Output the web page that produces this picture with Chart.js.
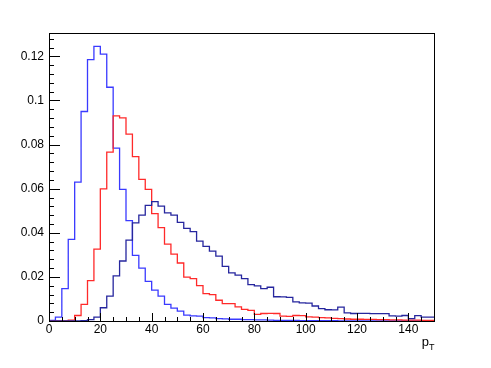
<!DOCTYPE html>
<html>
<head>
<meta charset="utf-8">
<script src="https://cdn.jsdelivr.net/npm/chart.js@4/dist/chart.umd.min.js"></script>
<style>
  html, body { margin: 0; padding: 0; background: #ffffff; }
  #wrap { width: 491px; height: 368px; position: relative; }
</style>
</head>
<body>
<div id="wrap"><canvas id="c" width="491" height="368"></canvas></div>
<script>
// Bin lower edges (60 bins of width 2.5 from 0 to 150), last entry is the upper edge
const binEdges = [0, 2.5, 5, 7.5, 10, 12.5, 15, 17.5, 20, 22.5, 25, 27.5, 30, 32.5, 35, 37.5,
  40, 42.5, 45, 47.5, 50, 52.5, 55, 57.5, 60, 62.5, 65, 67.5, 70, 72.5, 75, 77.5,
  80, 82.5, 85, 87.5, 90, 92.5, 95, 97.5, 100, 102.5, 105, 107.5, 110, 112.5, 115, 117.5,
  120, 122.5, 125, 127.5, 130, 132.5, 135, 137.5, 140, 142.5, 145, 147.5, 150];

// Light blue histogram (peaks near 20)
const seriesBlue = [0.0003, 0.0018, 0.0147, 0.037, 0.063, 0.095, 0.1185, 0.1245, 0.121, 0.106,
  0.0784, 0.0597, 0.0455, 0.0298, 0.024, 0.018, 0.014, 0.0113, 0.0075, 0.0058,
  0.0045, 0.0027, 0.0023, 0.0022, 0.0015, 0.0014, 0.0011, 0.001, 0.0008, 0.0008,
  0.0006, 0.0006, 0.0005, 0.0005, 0.0004, 0.0003, 0.0003, 0.0003, 0.0003, 0.0002,
  0.0002, 0.0002, 0.0002, 0.0002, 0.0002, 0.0001, 0.0001, 0.0001, 0.0001, 0.0001,
  0.0001, 0.0001, 0.0001, 0.0001, 0.0001, 0.0001, 0.0001, 0.0001, 0.0001, 0.0001];

// Red histogram (peaks near 27)
const seriesRed = [0, 0, 0, 0.0004, 0.0025, 0.0075, 0.0183, 0.0326, 0.0599, 0.0766,
  0.093, 0.0921, 0.0847, 0.0745, 0.0642, 0.0597, 0.0487, 0.0423, 0.0349, 0.0303,
  0.0263, 0.0199, 0.0192, 0.016, 0.0124, 0.012, 0.0094, 0.0079, 0.0079, 0.0064,
  0.0053, 0.0048, 0.003, 0.0034, 0.0035, 0.0034, 0.0022, 0.0021, 0.0025, 0.0024,
  0.0019, 0.0018, 0.0015, 0.0014, 0.0012, 0.0011, 0.0009, 0.0008, 0.0008, 0.0007,
  0.0007, 0.0006, 0.0006, 0.0005, 0.0005, 0.0004, 0.0004, 0.0004, 0.0003, 0.0003];

// Dark blue histogram (peaks near 40)
const seriesDark = [0, 0, 0, 0, 0.0001, 0.0002, 0.0006, 0.0018, 0.006, 0.0113,
  0.0205, 0.0272, 0.0367, 0.0445, 0.048, 0.0524, 0.0541, 0.0521, 0.049, 0.048,
  0.0447, 0.042, 0.0405, 0.0362, 0.0338, 0.0317, 0.0294, 0.0248, 0.0218, 0.0208,
  0.0192, 0.0165, 0.0159, 0.0147, 0.0153, 0.011, 0.0109, 0.0107, 0.0087, 0.0082,
  0.0081, 0.0068, 0.0056, 0.0051, 0.005, 0.0063, 0.0037, 0.0034, 0.0035, 0.0035,
  0.0033, 0.0033, 0.0033, 0.0023, 0.0022, 0.0025, 0.0011, 0.0024, 0.0018, 0.0018];

const xTickValues = [0, 20, 40, 60, 80, 100, 120, 140];
const yTickValues = [0, 0.02, 0.04, 0.06, 0.08, 0.1, 0.12];
const xMinorStep = 5;
const yMinorStep = 0.004;
const xRange = [0, 150];
const yRange = [0, 0.1306];

function toPoints(values) {
  const pts = values.map((v, i) => ({ x: binEdges[i], y: v }));
  pts.push({ x: binEdges[values.length], y: values[values.length - 1] });
  return pts;
}

const FONT = 'Liberation Sans, Arial, Helvetica, sans-serif';

const rootAxes = {
  id: 'rootAxes',
  afterDatasetsDraw(chart) {
    const { ctx, chartArea: a, scales } = chart;
    const xs = scales.x, ys = scales.y;
    ctx.save();
    ctx.strokeStyle = '#000000';
    ctx.lineWidth = 1;
    // frame
    ctx.strokeRect(Math.round(a.left) + 0.5, Math.round(a.top) + 0.5,
      Math.round(a.right - a.left), Math.round(a.bottom - a.top));
    ctx.beginPath();
    // x ticks (inward)
    for (let v = xRange[0]; v <= xRange[1] + 1e-9; v += xMinorStep) {
      const major = xTickValues.some(t => Math.abs(t - v) < 1e-9);
      const px = Math.round(xs.getPixelForValue(v)) + 0.5;
      const len = major ? 8 : 4;
      ctx.moveTo(px, a.bottom);
      ctx.lineTo(px, a.bottom - len);
    }
    // y ticks (inward)
    for (let v = yRange[0]; v <= yRange[1] + 1e-9; v += yMinorStep) {
      const major = yTickValues.some(t => Math.abs(t - v) < 1e-6);
      const py = Math.round(ys.getPixelForValue(v)) + 0.5;
      const len = major ? 11 : 5;
      ctx.moveTo(a.left, py);
      ctx.lineTo(a.left + len, py);
    }
    ctx.stroke();
    // axis title p_T
    ctx.fillStyle = '#000000';
    ctx.textBaseline = 'alphabetic';
    ctx.textAlign = 'right';
    ctx.font = '13px ' + FONT;
    ctx.fillText('p', a.right - 5, a.bottom + 25);
    ctx.textAlign = 'left';
    ctx.font = '9px ' + FONT;
    ctx.fillText('T', a.right - 5, a.bottom + 29);
    ctx.restore();
  }
};

new Chart(document.getElementById('c'), {
  type: 'line',
  data: {
    datasets: [
      { label: 'blue', data: toPoints(seriesBlue), borderColor: '#3a3aff', borderWidth: 1.3, stepped: true, pointRadius: 0, fill: false, order: 3 },
      { label: 'red', data: toPoints(seriesRed), borderColor: '#ff2a2a', borderWidth: 1.3, stepped: true, pointRadius: 0, fill: false, order: 2 },
      { label: 'dark', data: toPoints(seriesDark), borderColor: '#26269e', borderWidth: 1.3, stepped: true, pointRadius: 0, fill: false, order: 1 }
    ]
  },
  options: {
    responsive: false,
    animation: false,
    devicePixelRatio: 1,
    layout: { padding: { left: 0, right: 57, top: 33, bottom: 0 } },
    plugins: { legend: { display: false }, tooltip: { enabled: false } },
    scales: {
      x: {
        type: 'linear', min: xRange[0], max: xRange[1],
        afterBuildTicks: (s) => { s.ticks = xTickValues.map(v => ({ value: v })); },
        afterFit: (s) => { s.height = 47; },
        grid: { display: false, drawTicks: false },
        border: { display: false },
        ticks: { padding: 1, color: '#000', font: { family: FONT, size: 12 }, maxRotation: 0, autoSkip: false,
          callback: (v) => String(v) }
      },
      y: {
        type: 'linear', min: yRange[0], max: yRange[1],
        afterBuildTicks: (s) => { s.ticks = yTickValues.map(v => ({ value: v })); },
        afterFit: (s) => { s.width = 49; },
        grid: { display: false, drawTicks: false },
        border: { display: false },
        ticks: { padding: 5, color: '#000', font: { family: FONT, size: 12 },
          callback: (v) => String(parseFloat(Number(v).toFixed(3))) }
      }
    }
  },
  plugins: [rootAxes]
});
</script>
</body>
</html>
